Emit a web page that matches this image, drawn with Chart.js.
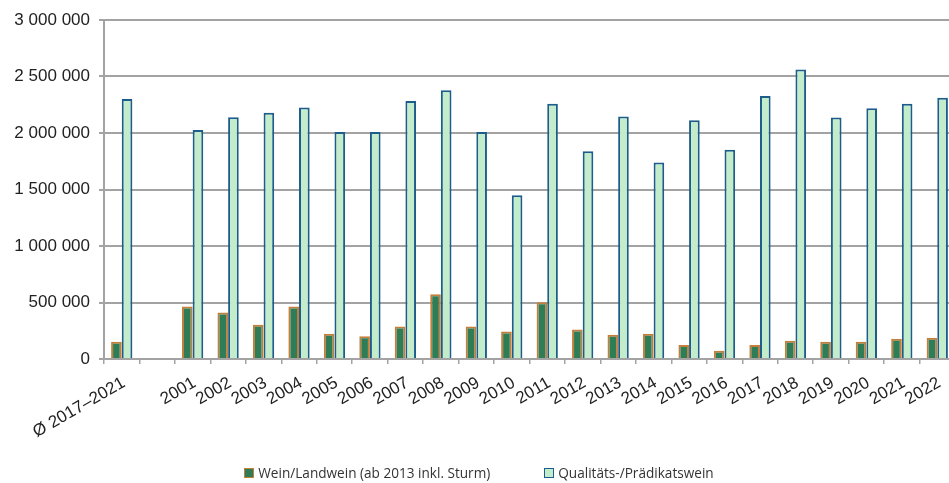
<!DOCTYPE html>
<html>
<head>
<meta charset="utf-8">
<script src="https://cdn.jsdelivr.net/npm/chart.js@4"></script>
<style>
  html, body { margin: 0; padding: 0; background: #fff; overflow: hidden; width: 949px; height: 483px; }
  #wrap { position: absolute; left: 0; top: 0; width: 959px; height: 483px; }
  #legend {
    position: absolute; left: 0; top: 462px; width: 958px; height: 21px;
    display: flex; justify-content: center; align-items: center;
    font-family: "Open Sans", sans-serif; font-size: 13.6px; color: #333; white-space: nowrap;
  }
  #legend .item { display: flex; align-items: center; }
  #legend .item + .item { margin-left: 54px; }
  #legend .box { width: 10px; height: 10px; box-sizing: border-box; margin-right: 4px; }
</style>
</head>
<body>
<div id="wrap">
  <canvas id="c" width="959" height="483"></canvas>
  <div id="legend"></div>
</div>
<script>
// Weinernte Rheinland-Pfalz (hl): Wein/Landwein vs. Qualitäts-/Prädikatswein
const categories = ['Ø 2017–2021', '', '2001', '2002', '2003', '2004', '2005', '2006', '2007', '2008',
  '2009', '2010', '2011', '2012', '2013', '2014', '2015', '2016', '2017', '2018', '2019', '2020', '2021', '2022'];

const weinLandwein = [153000, null, 464000, 411000, 302000, 464000, 223000, 202000, 288000, 574000,
  288000, 244000, 502000, 262000, 214000, 223000, 125000, 74000, 125000, 161000, 152000, 152000, 179000, 187000];

const qualitaetsPraedikatswein = [2301000, null, 2027000, 2140000, 2180000, 2225000, 2009000, 2009000, 2283000, 2378000,
  2009000, 1449000, 2259000, 1838000, 2146000, 1738000, 2113000, 1852000, 2328000, 2563000, 2137000, 2218000, 2259000, 2313000];

const seriesNames = ['Wein/Landwein (ab 2013 inkl. Sturm)', 'Qualitäts-/Prädikatswein'];

const yTickValues = [0, 500000, 1000000, 1500000, 2000000, 2500000, 3000000];
const yTickLabels = ['0', '500 000', '1 000 000', '1 500 000', '2 000 000', '2 500 000', '3 000 000'];

const gridGrey = '#a3a3a3';
const tickFont = { family: '"Liberation Sans", Arial, sans-serif', size: 17 };

const chart = new Chart(document.getElementById('c'), {
  type: 'bar',
  data: {
    labels: categories,
    datasets: [
      {
        label: seriesNames[0],
        data: weinLandwein,
        backgroundColor: '#2e7d57',
        borderColor: '#c47f3b',
        borderWidth: 2,
        categoryPercentage: 0.6,
        barPercentage: 1.0
      },
      {
        label: seriesNames[1],
        data: qualitaetsPraedikatswein,
        backgroundColor: '#c3ecca',
        borderColor: '#1d5d8c',
        borderWidth: 2,
        categoryPercentage: 0.6,
        barPercentage: 1.0
      }
    ]
  },
  options: {
    responsive: false,
    devicePixelRatio: 1,
    animation: false,
    layout: { padding: { top: 20, right: 4, left: 0, bottom: 34 } },
    plugins: {
      legend: { display: false },
      tooltip: { enabled: false }
    },
    scales: {
      x: {
        grid: { drawOnChartArea: false, tickLength: 5, color: gridGrey, lineWidth: 1.5, offset: true },
        border: { color: gridGrey, width: 2 },
        ticks: {
          autoSkip: false, maxRotation: 30, minRotation: 30, padding: 9, labelOffset: 2,
          color: '#222', font: tickFont
        },
        afterFit: s => { s.height = 90; }
      },
      y: {
        min: 0,
        max: 3000000,
        afterBuildTicks: s => { s.ticks = yTickValues.map(v => ({ value: v })); },
        grid: { color: gridGrey, lineWidth: 2, tickLength: 5 },
        border: { color: gridGrey, width: 2 },
        ticks: {
          padding: 9, color: '#222', font: tickFont,
          callback: v => yTickLabels[yTickValues.indexOf(v)]
        },
        afterFit: s => { s.width = 104; }
      }
    }
  }
});

// Legend row built from the chart's own datasets
const legendEl = document.getElementById('legend');
chart.data.datasets.forEach(ds => {
  const item = document.createElement('div');
  item.className = 'item';
  const box = document.createElement('span');
  box.className = 'box';
  box.style.background = ds.backgroundColor;
  box.style.border = '1.5px solid ' + ds.borderColor;
  const txt = document.createElement('span');
  txt.textContent = ds.label;
  item.appendChild(box);
  item.appendChild(txt);
  legendEl.appendChild(item);
});
</script>
</body>
</html>
